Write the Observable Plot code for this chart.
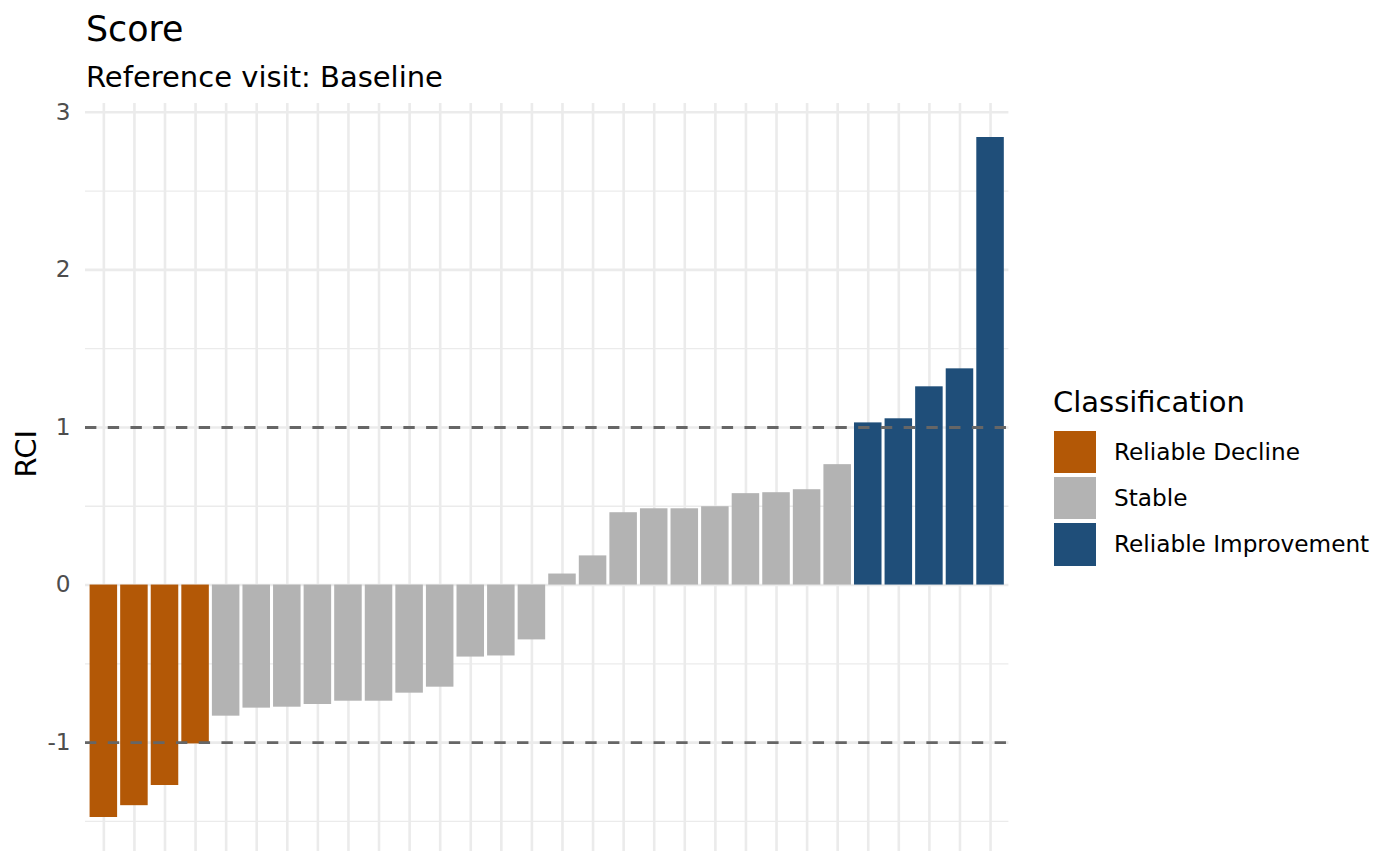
<!DOCTYPE html>
<html>
<head>
<meta charset="utf-8">
<script src="https://cdn.jsdelivr.net/npm/d3@7"></script>
<script src="https://cdn.jsdelivr.net/npm/@observablehq/plot@0.6"></script>
<style>
  html, body { margin: 0; padding: 0; background: #fff; }
  body { font-family: "DejaVu Sans", sans-serif; }
  #wrap { position: relative; width: 1400px; height: 866px; overflow: hidden; }
  #header { position: relative; height: 95px; }
  .t { position: absolute; white-space: nowrap; line-height: 1; color: #000; }
  #title { left: 86px; top: 12.3px; font-size: 34.8px; }
  #subtitle { left: 86px; top: 62.5px; font-size: 29px; }
  #legend { position: absolute; left: 0; top: 0; }
  .lg-title { position: absolute; left: 1053px; top: 388px; font-size: 29px; line-height: 1; white-space: nowrap; }
  .lg-key { position: absolute; left: 1054px; width: 42.3px; height: 42.3px; }
  .lg-lab { position: absolute; left: 1114px; font-size: 23.2px; line-height: 42.3px; white-space: nowrap; }
</style>
</head>
<body>
<div id="wrap">
  <div id="header">
    <div class="t" id="title"></div>
    <div class="t" id="subtitle"></div>
  </div>
  <div id="chart"></div>
  <div id="legend"></div>
</div>
<script>
// ---- data ----
const titleText = "Score";
const subtitleText = "Reference visit: Baseline";
const yLabel = "RCI";
const legendTitle = "Classification";
const categories = ["Reliable Decline", "Stable", "Reliable Improvement"];
const colors = ["#B35806", "#B3B3B3", "#1F4E79"];
const rci = [-1.475, -1.400, -1.272, -1.008, -0.832, -0.781, -0.775, -0.758, -0.737, -0.737,
             -0.686, -0.648, -0.457, -0.450, -0.348, 0.070, 0.185, 0.459, 0.484, 0.484,
             0.497, 0.580, 0.586, 0.605, 0.764, 1.029, 1.055, 1.258, 1.372, 2.840];
const classification = [
  "Reliable Decline", "Reliable Decline", "Reliable Decline", "Reliable Decline",
  "Stable", "Stable", "Stable", "Stable", "Stable", "Stable", "Stable", "Stable", "Stable",
  "Stable", "Stable", "Stable", "Stable", "Stable", "Stable", "Stable", "Stable", "Stable",
  "Stable", "Stable", "Stable",
  "Reliable Improvement", "Reliable Improvement", "Reliable Improvement",
  "Reliable Improvement", "Reliable Improvement"
];
const thresholds = [-1, 1];
const yMajorTicks = [-1, 0, 1, 2, 3];
const yMinorTicks = [-1.5, -0.5, 0.5, 1.5, 2.5];

// ---- build ----
document.getElementById("title").textContent = titleText;
document.getElementById("subtitle").textContent = subtitleText;

const data = rci.map((v, i) => ({id: i + 1, rci: v, cls: classification[i]}));
const ids = data.map(d => d.id);

const [lo, hi] = d3.extent(rci);
const pad = (hi - lo) * 0.05;

const gridColor = "#EBEBEB";

const chart = Plot.plot({
  width: 1400,
  height: 771,
  marginTop: 8,
  marginBottom: 15,
  marginLeft: 85,
  marginRight: 391.6,
  style: {fontFamily: "DejaVu Sans", fontSize: "23.2px", background: "#fff"},
  x: {type: "band", domain: ids, paddingInner: 0.1, paddingOuter: 0.15, align: 0.5, round: false, axis: null},
  y: {domain: [lo - pad, hi + pad], axis: null},
  color: {domain: categories, range: colors},
  marks: [
    Plot.gridY({ticks: yMinorTicks, stroke: gridColor, strokeOpacity: 1, strokeWidth: 1.3}),
    Plot.gridY({ticks: yMajorTicks, stroke: gridColor, strokeOpacity: 1, strokeWidth: 2.6}),
    Plot.gridX({ticks: ids, stroke: gridColor, strokeOpacity: 1, strokeWidth: 2.6}),
    Plot.axisY({ticks: yMajorTicks, tickSize: 0, tickPadding: 15, tickFormat: d => String(d),
                fontSize: 23.2, color: "#4D4D4D", label: null}),
    Plot.barY(data, {x: "id", y1: 0, y2: "rci", fill: "cls"}),
    Plot.ruleY(thresholds, {stroke: "#666666", strokeWidth: 2.84, strokeDasharray: "11.37,11.37"}),
    Plot.text([yLabel], {frameAnchor: "left", dx: -59, rotate: -90, fontSize: 29, fill: "#000", lineAnchor: "middle"})
  ]
});
document.getElementById("chart").appendChild(chart);

// ---- legend ----
const lg = document.getElementById("legend");
const lt = document.createElement("div");
lt.className = "lg-title";
lt.textContent = legendTitle;
lg.appendChild(lt);
categories.forEach((c, i) => {
  const top = 431 + i * 46.2;
  const k = document.createElement("div");
  k.className = "lg-key";
  k.style.top = top + "px";
  k.style.background = colors[i];
  lg.appendChild(k);
  const l = document.createElement("div");
  l.className = "lg-lab";
  l.style.top = top + "px";
  l.textContent = c;
  lg.appendChild(l);
});
</script>
</body>
</html>
